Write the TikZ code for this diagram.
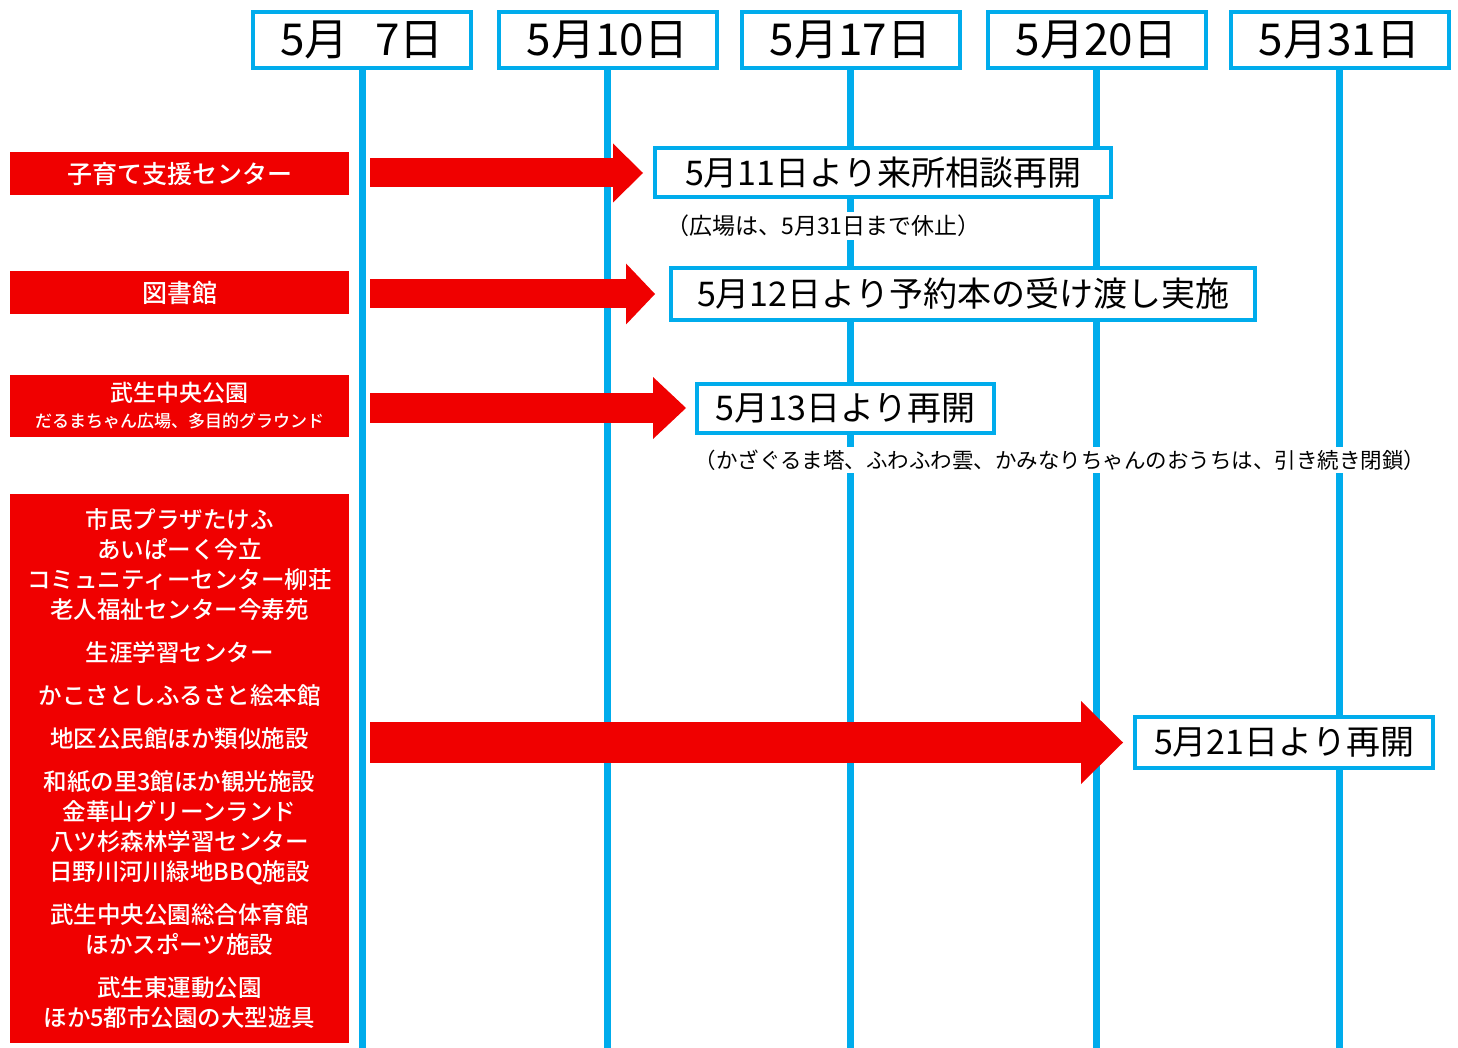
\documentclass[tikz,border=0pt]{standalone}
\usepackage{fontspec}
\setmainfont{Noto Sans CJK JP}[BoldFont={Noto Sans CJK JP Medium}]
\usetikzlibrary{positioning,arrows.meta}

\definecolor{lineblue}{RGB}{0,172,236}
\definecolor{boxred}{RGB}{240,0,0}

\tikzset{
  date box/.style={draw=lineblue, line width=4pt, fill=white, inner sep=0pt,
    minimum width=218pt, minimum height=56pt, font=\fontsize{44}{48}\selectfont},
  time line/.style={draw=lineblue, line width=7pt},
  place box/.style={fill=boxred, text=white, inner sep=0pt, align=center,
    minimum width=339pt, font=\bfseries\fontsize{25}{30}\selectfont},
  result box/.style={draw=lineblue, line width=4pt, fill=white, inner sep=0pt,
    font=\fontsize{34}{40}\selectfont},
  note/.style={fill=white, inner sep=3pt, font=\fontsize{21.5}{24}\selectfont},
  red arrow/.style={draw=boxred, shorten <=21pt}
}

\begin{document}
\begin{tikzpicture}[x=1pt, y=-1pt]
  \useasboundingbox (0,0) rectangle (1458,1048);

  % dates and time lines
  \foreach \x/\d [count=\i] in {362/{5月\hspace{0.6em}7日}, 607.5/5月10日, 850.5/5月17日, 1096.5/5月20日, 1339.5/5月31日}
  {
    \node [date box] (date-\i) at (\x,40) {\d};
    \coordinate (foot-\i) at (\x,1048);
    \draw [time line] (date-\i.south) -- (foot-\i);
  }

  % facilities
  \node [place box, minimum height=43pt] (place-1) at (179.5,174) {子育て支援センター};
  \node [place box, minimum height=43pt] (place-2) at (179.5,293) {図書館};
  \node [place box, minimum height=62pt, font=\bfseries\fontsize{23}{26}\selectfont] (place-3) at (179.5,406)
    {武生中央公園\\{\fontsize{17}{22}\selectfont だるまちゃん広場、多目的グラウンド}};
  \node [place box, minimum height=549pt, font=\bfseries\fontsize{23.5}{30}\selectfont] (place-4) at (179.5,768.5)
    {市民プラザたけふ\\あいぱーく今立\\コミュニティーセンター柳荘\\老人福祉センター今寿苑\\[13pt]
     生涯学習センター\\[13pt]かこさとしふるさと絵本館\\[13pt]地区公民館ほか類似施設\\[13pt]
     和紙の里3館ほか観光施設\\金華山グリーンランド\\八ツ杉森林学習センター\\日野川河川緑地BBQ施設\\[13pt]
     武生中央公園総合体育館\\ほかスポーツ施設\\[13pt]
     武生東運動公園\\ほか5都市公園の大型遊具};

  % reopening dates
  \node [result box, minimum width=456pt, minimum height=49pt] (result-1) at (883,173) {5月11日より来所相談再開};
  \node [note, font=\fontsize{23}{26}\selectfont] (note-1) at (823.5,226) {（広場は、5月31日まで休止）};
  \node [result box, minimum width=584pt, minimum height=52pt] (result-2) at (963,294) {5月12日より予約本の受け渡し実施};
  \node [result box, minimum width=297pt, minimum height=49pt] (result-3) at (845.5,408) {5月13日より再開};
  \node [note] (note-3) at (1060,460) {（かざぐるま塔、ふわふわ雲、かみなりちゃんのおうちは、引き続き閉鎖）};
  \node [result box, minimum width=298pt, minimum height=51pt] (result-4) at (1284,742.5) {5月21日より再開};

  % arrows
  \draw [red arrow, line width=29pt, shorten >=10pt, -{Triangle[length=30pt, width=59pt, line width=0pt]}]
    (result-1 -| place-1.east) -- (result-1.west);
  \draw [red arrow, line width=29pt, shorten >=14pt, -{Triangle[length=29pt, width=61pt, line width=0pt]}]
    (result-2 -| place-2.east) -- (result-2.west);
  \draw [red arrow, line width=30pt, shorten >=9pt, -{Triangle[length=33pt, width=62pt, line width=0pt]}]
    (result-3 -| place-3.east) -- (result-3.west);
  \draw [red arrow, line width=41pt, shorten >=10pt, -{Triangle[length=42pt, width=83pt, line width=0pt]}]
    (result-4 -| place-4.east) -- (result-4.west);
\end{tikzpicture}
\end{document}
